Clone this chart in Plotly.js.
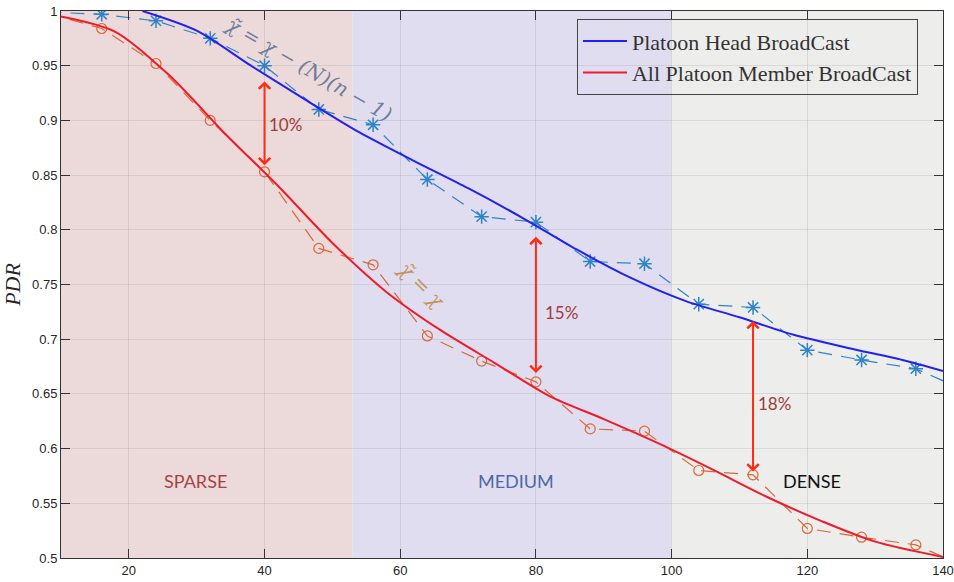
<!DOCTYPE html>
<html>
<head>
<meta charset="utf-8">
<script src="https://cdn.plot.ly/plotly-3.0.1.min.js"></script>
<style>html,body{margin:0;padding:0;background:#fff;}#chart{width:954px;height:582px;}</style>
</head>
<body>
<div id="chart"></div>
<script>
// ---- data ----
const sampleX = [8, 16, 24, 32, 40, 48, 56, 64, 72, 80, 88, 96, 104, 112, 120, 128, 136, 144];
const headSim = [0.999, 0.997, 0.991, 0.975, 0.950, 0.910, 0.896, 0.846, 0.812, 0.807, 0.771, 0.769, 0.732, 0.729, 0.690, 0.681, 0.673, 0.651];
const memberSim = [0.998, 0.984, 0.952, 0.900, 0.853, 0.783, 0.768, 0.703, 0.680, 0.661, 0.618, 0.616, 0.580, 0.576, 0.527, 0.519, 0.512, 0.490];

const headFitX = [22, 30, 38, 46, 54, 62, 70, 78, 86, 94, 102, 110, 118, 126, 134, 140];
const headFit = [1.000, 0.982, 0.950, 0.919, 0.889, 0.863, 0.838, 0.811, 0.782, 0.756, 0.735, 0.720, 0.704, 0.692, 0.681, 0.671];
const memberFitX = [10, 18, 26, 34, 42, 50, 58, 66, 74, 82, 90, 98, 106, 114, 122, 130, 140];
const memberFit = [0.995, 0.981, 0.941, 0.889, 0.840, 0.788, 0.743, 0.708, 0.678, 0.648, 0.627, 0.605, 0.581, 0.556, 0.534, 0.515, 0.501];

const seriesNames = ['Platoon Head BroadCast', 'All Platoon Member BroadCast'];

const regionNames = ['SPARSE', 'MEDIUM', 'DENSE'];
const regionStart = [10, 53, 100];
const regionEnd = [53, 100, 140];
const regionLabelX = [29.8, 77.0, 120.7];
const regionLabelY = 0.570;

const arrowX = [40, 80, 112];
const arrowTop = [0.937, 0.795, 0.718];
const arrowBottom = [0.859, 0.669, 0.579];
const gapLabels = ['10%', '15%', '18%'];
const gapLabelX = [43.1, 83.7, 115.1];
const gapLabelY = [0.896, 0.724, 0.641];

const xTicks = [20, 40, 60, 80, 100, 120, 140];
const yTicks = [0.5, 0.55, 0.6, 0.65, 0.7, 0.75, 0.8, 0.85, 0.9, 0.95, 1];
const yTickText = ['0.5', '0.55', '0.6', '0.65', '0.7', '0.75', '0.8', '0.85', '0.9', '0.95', '1'];

// ---- styles ----
const regionFill = ['#ecd9da', '#e1ddf0', '#ededeb'];
const regionText = ['#a64444', '#4a6aa8', '#111111'];
const gothic = 'Lato, "Open Sans", sans-serif';
const serif = '"DejaVu Serif", "Liberation Serif", serif';

const traces = [
  {x: sampleX, y: headSim, mode: 'lines+markers', showlegend: false,
   line: {color: '#2f83c6', width: 1.2, dash: '14px,9px'},
   marker: {symbol: 'asterisk-open', size: 12, color: '#2f83c6', line: {color: '#2f83c6', width: 1.5}}},
  {x: sampleX, y: memberSim, mode: 'lines+markers', showlegend: false,
   line: {color: '#d9683a', width: 1.2, dash: '14px,9px'},
   marker: {symbol: 'circle-open', size: 10, color: '#d9683a', line: {color: '#d9683a', width: 1.2}}},
  {x: headFitX, y: headFit, mode: 'lines', name: seriesNames[0], line: {color: '#2222ee', width: 2, shape: 'spline', smoothing: 0.8}},
  {x: memberFitX, y: memberFit, mode: 'lines', name: seriesNames[1], line: {color: '#ee1c2a', width: 2, shape: 'spline', smoothing: 0.8}}
];

const shapes = regionNames.map((n, i) => ({
  type: 'rect', xref: 'x', yref: 'paper', x0: regionStart[i], x1: regionEnd[i], y0: 0, y1: 1,
  fillcolor: regionFill[i], line: {width: 0}, layer: 'below'
}));

const annotations = [];
regionNames.forEach((n, i) => annotations.push({
  x: regionLabelX[i], y: regionLabelY, xref: 'x', yref: 'y', text: n, showarrow: false,
  font: {family: gothic, size: 18, color: regionText[i]}
}));
arrowX.forEach((x, i) => {
  annotations.push({
    x: x, y: arrowBottom[i], ax: x, ay: arrowTop[i], xref: 'x', yref: 'y', axref: 'x', ayref: 'y',
    text: '', showarrow: true, arrowside: 'end+start', arrowhead: 4, startarrowhead: 4,
    arrowsize: 1.1, startarrowsize: 1.1, arrowwidth: 2, arrowcolor: '#ff2a14', standoff: 0, startstandoff: 0
  });
  annotations.push({
    x: gapLabelX[i], y: gapLabelY[i], xref: 'x', yref: 'y', text: gapLabels[i], showarrow: false,
    font: {family: gothic, size: 17, color: '#9e3c3c'}
  });
});
annotations.push({
  x: 46.5, y: 0.947, xref: 'x', yref: 'y', text: '<i>χ\u0303 = χ − (N)(n − 1)</i>', showarrow: false,
  textangle: 30, font: {family: serif, size: 20, color: '#6d7d9c'}
});
annotations.push({
  x: 63.2, y: 0.750, xref: 'x', yref: 'y', text: '<i>χ\u0303 = χ</i>', showarrow: false,
  textangle: 45, font: {family: serif, size: 20, color: '#c4925c'}
});

const axisCommon = {
  showline: true, linecolor: '#333333', linewidth: 1, mirror: 'ticks',
  ticks: 'inside', ticklen: 9, tickcolor: '#333333', tickwidth: 1,
  showgrid: true, gridcolor: 'rgba(140,140,140,0.22)', gridwidth: 1, zeroline: false,
  tickfont: {family: '"Liberation Sans", Arial, sans-serif', size: 13, color: '#262626'}
};

const layout = {
  width: 954, height: 582,
  margin: {l: 61, r: 11, t: 11, b: 24},
  paper_bgcolor: '#ffffff', plot_bgcolor: '#ffffff',
  showlegend: true,
  legend: {x: 0.585, y: 0.985, xanchor: 'left', yanchor: 'top', bgcolor: 'rgba(0,0,0,0)',
           bordercolor: '#444444', borderwidth: 1, itemwidth: 44,
           font: {family: '"Liberation Serif", "DejaVu Serif", serif', size: 22, color: '#333333'},
           tracegroupgap: 0},
  xaxis: Object.assign({}, axisCommon, {range: [10, 140], tickvals: xTicks, ticktext: xTicks.map(String)}),
  yaxis: Object.assign({}, axisCommon, {range: [0.5, 1], tickvals: yTicks, ticktext: yTickText,
    title: {text: '<i>PDR</i>', standoff: 8, font: {family: '"Liberation Serif", "DejaVu Serif", serif', size: 22, color: '#262626'}}}),
  shapes: shapes,
  annotations: annotations
};

Plotly.newPlot('chart', traces, layout, {staticPlot: true, displayModeBar: false});
</script>
</body>
</html>
